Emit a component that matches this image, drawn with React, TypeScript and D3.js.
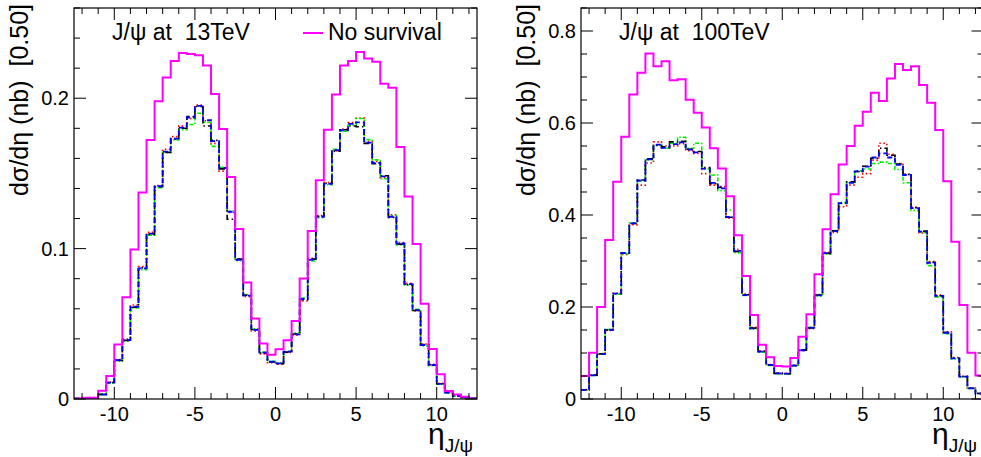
import React from "react";
import * as d3 from "d3";

const W = 981;
const H = 457;

// eta bins: 50 bins of width 0.5 from -12.5 to 12.5
const etaLow = -12.5;
const binWidth = 0.5;

const xTickLabels = ["-10", "-5", "0", "5", "10"];
const xTickValues = [-10, -5, 0, 5, 10];
const leftYTicks = [0, 0.1, 0.2];
const leftYTickLabels = ["0", "0.1", "0.2"];
const rightYTicks = [0, 0.2, 0.4, 0.6, 0.8];
const rightYTickLabels = ["0", "0.2", "0.4", "0.6", "0.8"];

// 13 TeV
const left13NoSurvival = [0.0003, 0.0009, 0.0009, 0.0055, 0.0153, 0.0363, 0.0676, 0.0994, 0.1373, 0.1723, 0.198, 0.2138, 0.2248, 0.2301, 0.2294, 0.2285, 0.2218, 0.2028, 0.1795, 0.1476, 0.1130, 0.0775, 0.0536, 0.0369, 0.0295, 0.0331, 0.0391, 0.0518, 0.0802, 0.1117, 0.1455, 0.1790, 0.2025, 0.2217, 0.2248, 0.2308, 0.2264, 0.2242, 0.2097, 0.2070, 0.1675, 0.1347, 0.1030, 0.0633, 0.0333, 0.0164, 0.0054, 0.0030, 0.0015, 0.0004];
const left13Blue = [0.0003, 0.0004, 0.0008, 0.0030, 0.0109, 0.0259, 0.0392, 0.0614, 0.0868, 0.1100, 0.1415, 0.1645, 0.1732, 0.1805, 0.1872, 0.1949, 0.1854, 0.1715, 0.1536, 0.1245, 0.0926, 0.0688, 0.0460, 0.0308, 0.0248, 0.0237, 0.0315, 0.0430, 0.0665, 0.0926, 0.1212, 0.1430, 0.1655, 0.1787, 0.1830, 0.1840, 0.1705, 0.1570, 0.1480, 0.1212, 0.1034, 0.0764, 0.0591, 0.0359, 0.0226, 0.0100, 0.0042, 0.0020, 0.0011, 0.0004];
const left13Red = [0.0003, 0.0005, 0.0009, 0.0032, 0.0112, 0.0262, 0.0398, 0.0625, 0.0880, 0.1108, 0.1420, 0.1660, 0.1745, 0.1815, 0.1865, 0.1955, 0.1850, 0.1700, 0.1515, 0.1240, 0.0930, 0.0680, 0.0452, 0.0300, 0.0242, 0.0232, 0.0310, 0.0425, 0.0652, 0.0935, 0.1220, 0.1440, 0.1650, 0.1795, 0.1838, 0.1868, 0.1712, 0.1580, 0.1472, 0.1225, 0.1040, 0.0770, 0.0585, 0.0365, 0.0230, 0.0104, 0.0044, 0.0021, 0.0011, 0.0004];
const left13Green = [0.0003, 0.0004, 0.0008, 0.0029, 0.0105, 0.0252, 0.0385, 0.0605, 0.0860, 0.1090, 0.1405, 0.1640, 0.1722, 0.1790, 0.1825, 0.1900, 0.1840, 0.1680, 0.1540, 0.1250, 0.0920, 0.0695, 0.0466, 0.0312, 0.0251, 0.0241, 0.0318, 0.0440, 0.0672, 0.0918, 0.1205, 0.1425, 0.1660, 0.1780, 0.1822, 0.1865, 0.1725, 0.1590, 0.1465, 0.1220, 0.1025, 0.0758, 0.0596, 0.0352, 0.0222, 0.0098, 0.0041, 0.0019, 0.0010, 0.0004];
const left13Black = [0.0003, 0.0004, 0.0008, 0.0031, 0.0110, 0.0257, 0.0390, 0.0610, 0.0872, 0.1095, 0.1412, 0.1640, 0.1728, 0.1800, 0.1878, 0.1945, 0.1815, 0.1720, 0.1530, 0.1195, 0.0930, 0.0690, 0.0462, 0.0306, 0.0246, 0.0235, 0.0312, 0.0432, 0.0660, 0.0930, 0.1215, 0.1435, 0.1648, 0.1790, 0.1815, 0.1810, 0.1700, 0.1565, 0.1485, 0.1208, 0.1030, 0.0760, 0.0588, 0.0362, 0.0228, 0.0101, 0.0043, 0.0020, 0.0011, 0.0004];

// 100 TeV
const right100NoSurvival = [0.050, 0.1007, 0.200, 0.3457, 0.4725, 0.5703, 0.6620, 0.7094, 0.7510, 0.7235, 0.7340, 0.6930, 0.6950, 0.6505, 0.6225, 0.5900, 0.5450, 0.5010, 0.4410, 0.3560, 0.2674, 0.1826, 0.1180, 0.0910, 0.0720, 0.0705, 0.0890, 0.1355, 0.1845, 0.2710, 0.3690, 0.4450, 0.5100, 0.5500, 0.5940, 0.6245, 0.6660, 0.6480, 0.6970, 0.7285, 0.7150, 0.7235, 0.6825, 0.6440, 0.5850, 0.4735, 0.3420, 0.2043, 0.1007, 0.0510];
const right100Blue = [0.0200, 0.0515, 0.0980, 0.1505, 0.2290, 0.3170, 0.3820, 0.4750, 0.5210, 0.5530, 0.5460, 0.5540, 0.5580, 0.5420, 0.5360, 0.5010, 0.4700, 0.4580, 0.3960, 0.3220, 0.2260, 0.1536, 0.1030, 0.0739, 0.0558, 0.0550, 0.0725, 0.1060, 0.1550, 0.2255, 0.3170, 0.3650, 0.4260, 0.4700, 0.4950, 0.5050, 0.5250, 0.5340, 0.5250, 0.5090, 0.4870, 0.4150, 0.3640, 0.2960, 0.2240, 0.1440, 0.0884, 0.0486, 0.0232, 0.0120];
const right100Red = [0.0205, 0.0520, 0.0975, 0.1490, 0.2300, 0.3140, 0.3790, 0.4650, 0.5130, 0.5590, 0.5500, 0.5500, 0.5550, 0.5400, 0.5340, 0.4900, 0.4650, 0.4620, 0.3930, 0.3250, 0.2280, 0.1560, 0.1045, 0.0750, 0.0565, 0.0560, 0.0735, 0.1050, 0.1530, 0.2270, 0.3190, 0.3620, 0.4180, 0.4650, 0.4820, 0.4900, 0.5190, 0.5560, 0.5320, 0.5120, 0.4890, 0.4170, 0.3610, 0.2990, 0.2260, 0.1460, 0.0900, 0.0495, 0.0238, 0.0125];
const right100Green = [0.0195, 0.0510, 0.0990, 0.1510, 0.2280, 0.3160, 0.3830, 0.4740, 0.5200, 0.5520, 0.5450, 0.5560, 0.5690, 0.5450, 0.5560, 0.5000, 0.4870, 0.4530, 0.4110, 0.3180, 0.2250, 0.1520, 0.1020, 0.0730, 0.0550, 0.0545, 0.0715, 0.1075, 0.1560, 0.2240, 0.3150, 0.3660, 0.4270, 0.4710, 0.4960, 0.5000, 0.5120, 0.5150, 0.5120, 0.4990, 0.4700, 0.4100, 0.3620, 0.2900, 0.2220, 0.1420, 0.0870, 0.0480, 0.0228, 0.0118];
const right100Black = [0.0200, 0.0518, 0.0982, 0.1500, 0.2295, 0.3175, 0.3815, 0.4760, 0.5220, 0.5510, 0.5480, 0.5590, 0.5600, 0.5430, 0.5380, 0.5030, 0.4680, 0.4600, 0.3950, 0.3210, 0.2265, 0.1540, 0.1035, 0.0742, 0.0556, 0.0548, 0.0728, 0.1062, 0.1545, 0.2260, 0.3165, 0.3655, 0.4250, 0.4720, 0.4945, 0.5060, 0.5230, 0.5450, 0.5300, 0.5110, 0.4880, 0.4160, 0.3650, 0.2970, 0.2245, 0.1445, 0.0886, 0.0488, 0.0233, 0.0121];

const FONT = "'Liberation Sans', Arial, Helvetica, sans-serif";

type Series = { values: number[]; color: string; dash?: string; width: number };

type PanelProps = {
  left: number;
  right: number;
  top: number;
  bottom: number;
  ymax: number;
  yTicks: number[];
  yTickLabels: string[];
  yMinorStep: number;
  label: string;
  legend: boolean;
  noSurvival: number[];
  survival: Series[];
};

function Panel(p: PanelProps) {
  const x = d3.scaleLinear().domain([-12.5, 12.5]).range([p.left, p.right]);
  const y = d3.scaleLinear().domain([0, p.ymax]).range([p.bottom, p.top]);

  const histPath = (vals: number[]) => {
    const pts: [number, number][] = vals.map((v, i) => [etaLow + i * binWidth, v]);
    pts.push([etaLow + vals.length * binWidth, vals[vals.length - 1]]);
    const line = d3
      .line<[number, number]>()
      .x((d) => x(d[0]))
      .y((d) => y(d[1]))
      .curve(d3.curveStepAfter);
    return line(pts) || "";
  };

  const xMinor = d3.range(-12, 13, 1);
  const yMinor = d3.range(0, p.ymax + 1e-9, p.yMinorStep);
  const majLen = 12;
  const minLen = 6;

  const all: Series[] = [
    ...p.survival,
    { values: p.noSurvival, color: "#ff00ff", width: 2 },
  ];

  return (
    <g>
      <defs>
        <clipPath id={`clip${p.left}`}>
          <rect x={p.left} y={p.top} width={p.right - p.left} height={p.bottom - p.top} />
        </clipPath>
      </defs>
      <g clipPath={`url(#clip${p.left})`}>
        {all.map((s, i) => (
          <path
            key={i}
            d={histPath(s.values)}
            fill="none"
            stroke={s.color}
            strokeWidth={s.width}
            strokeDasharray={s.dash}
          />
        ))}
      </g>
      {/* frame */}
      <rect
        x={p.left}
        y={p.top}
        width={p.right - p.left}
        height={p.bottom - p.top}
        fill="none"
        stroke="#000"
        strokeWidth={1.2}
      />
      {/* x ticks bottom & top */}
      {xMinor.map((t) => {
        const major = t % 5 === 0;
        const len = major ? majLen : minLen;
        return (
          <g key={`xt${t}`} stroke="#000" strokeWidth={1}>
            <line x1={x(t)} x2={x(t)} y1={p.bottom} y2={p.bottom - len} />
            <line x1={x(t)} x2={x(t)} y1={p.top} y2={p.top + len} />
          </g>
        );
      })}
      {/* y ticks left & right */}
      {yMinor.map((t, i) => {
        const major = p.yTicks.some((m) => Math.abs(m - t) < 1e-6);
        const len = major ? majLen : minLen;
        return (
          <g key={`yt${i}`} stroke="#000" strokeWidth={1}>
            <line x1={p.left} x2={p.left + len} y1={y(t)} y2={y(t)} />
            <line x1={p.right} x2={p.right - len} y1={y(t)} y2={y(t)} />
          </g>
        );
      })}
      {/* x labels */}
      {xTickValues.map((t, i) => (
        <text
          key={`xl${t}`}
          x={x(t)}
          y={p.bottom + 22}
          textAnchor="middle"
          fontSize={20}
          fontFamily={FONT}
          fill="#000"
        >
          {xTickLabels[i]}
        </text>
      ))}
      {/* y labels */}
      {p.yTicks.map((t, i) => (
        <text
          key={`yl${i}`}
          x={p.left - 5}
          y={y(t) + 7}
          textAnchor="end"
          fontSize={20}
          fontFamily={FONT}
          fill="#000"
        >
          {p.yTickLabels[i]}
        </text>
      ))}
      {/* y title */}
      <text
        transform={`translate(${p.left - 46},4) rotate(-90)`}
        textAnchor="end"
        fontSize={25}
        fontFamily={FONT}
        fill="#000"
        style={{ whiteSpace: "pre" }}
      >
        {"dσ/dη (nb)  [0.50]"}
      </text>
      {/* x title */}
      <text
        x={Math.min(p.right, W) - 4}
        y={444}
        textAnchor="end"
        fontFamily={FONT}
        fill="#000"
      >
        <tspan fontSize={30}>η</tspan>
        <tspan fontSize={19} dy={8}>J/ψ</tspan>
      </text>
      {/* label */}
      <text
        x={p.left + 38}
        y={40}
        fontSize={23}
        fontFamily={FONT}
        fill="#000"
        style={{ whiteSpace: "pre" }}
      >
        {p.label}
      </text>
      {p.legend && (
        <g>
          <line x1={p.left + 229} x2={p.left + 249} y1={33} y2={33} stroke="#ff00ff" strokeWidth={2} />
          <text x={p.left + 254} y={40} fontSize={23} fontFamily={FONT} fill="#000">
            No survival
          </text>
        </g>
      )}
    </g>
  );
}

export default function App() {
  const mk = (r: number[], g: number[], k: number[], b: number[]): Series[] => [
    { values: r, color: "#ff0000", dash: "1.5 2.5", width: 1.6 },
    { values: g, color: "#00ee00", dash: "4 2 1.5 2", width: 1.6 },
    { values: k, color: "#000000", dash: "6 3 1.5 3", width: 1.6 },
    { values: b, color: "#0000ff", dash: "5 3", width: 1.8 },
  ];
  return (
    <svg
      width={W}
      height={H}
      style={{ position: "absolute", left: 0, top: 0, background: "#fff" }}
    >
      <rect x={0} y={0} width={W} height={H} fill="#fff" />
      <Panel
        left={74}
        right={477}
        top={8}
        bottom={399}
        ymax={0.26}
        yTicks={leftYTicks}
        yTickLabels={leftYTickLabels}
        yMinorStep={0.02}
        label={"J/ψ at  13TeV"}
        legend={true}
        noSurvival={left13NoSurvival}
        survival={mk(left13Red, left13Green, left13Black, left13Blue)}
      />
      <Panel
        left={581}
        right={983.5}
        top={8}
        bottom={399}
        ymax={0.85}
        yTicks={rightYTicks}
        yTickLabels={rightYTickLabels}
        yMinorStep={0.05}
        label={"J/ψ at  100TeV"}
        legend={false}
        noSurvival={right100NoSurvival}
        survival={mk(right100Red, right100Green, right100Black, right100Blue)}
      />
    </svg>
  );
}
